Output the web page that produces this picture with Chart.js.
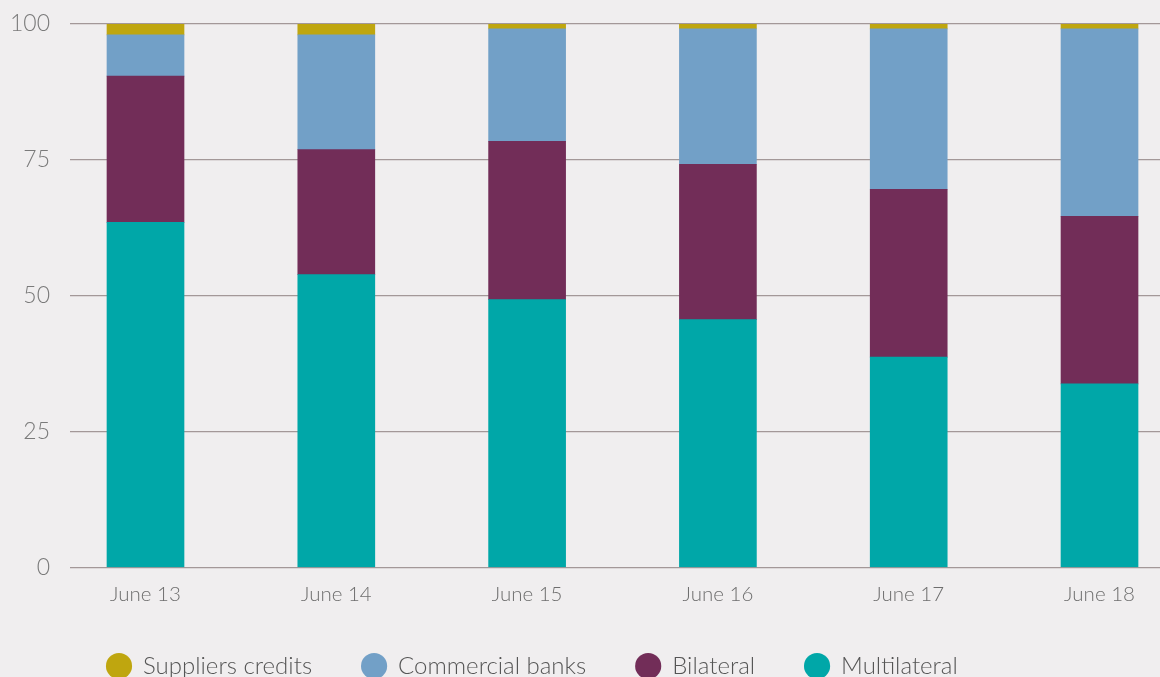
<!DOCTYPE html>
<html>
<head>
<meta charset="utf-8">
<script src="https://cdn.jsdelivr.net/npm/chart.js@4"></script>
<style>
  html, body { margin: 0; padding: 0; background: #f0eeef; overflow: hidden; }
  #wrap { width: 1160px; height: 677px; position: relative; }
</style>
</head>
<body>
<div id="wrap"><canvas id="c" width="1160" height="677"></canvas></div>
<script>
const categories = ['June 13', 'June 14', 'June 15', 'June 16', 'June 17', 'June 18'];
const multilateral = [63.5, 53.9, 49.3, 45.6, 38.7, 33.8];
const bilateral = [26.9, 23.0, 29.1, 28.6, 30.9, 30.8];
const commercialBanks = [7.6, 21.1, 20.7, 24.9, 29.5, 34.5];
const suppliersCredits = [2.0, 2.0, 0.9, 0.9, 0.9, 0.9];
const yTicks = [0, 25, 50, 75, 100];

const xIdx = categories.map((_, i) => i);

const legendShift = {
  id: 'legendShift',
  afterLayout(chart) {
    const lg = chart.legend;
    const dx = 57 - lg.left;
    lg.left += dx; lg.right += dx;
    const dy = 604 - lg.top;
    lg.top += dy; lg.bottom += dy;
  }
};

new Chart(document.getElementById('c'), {
  type: 'bar',
  data: {
    labels: xIdx,
    datasets: [
      { label: 'Multilateral', data: multilateral, backgroundColor: '#00a7a8' },
      { label: 'Bilateral', data: bilateral, backgroundColor: '#722d58' },
      { label: 'Commercial banks', data: commercialBanks, backgroundColor: '#72a0c7' },
      { label: 'Suppliers credits', data: suppliersCredits, backgroundColor: '#bfa60f' }
    ].map(d => Object.assign(d, { stack: 's', barThickness: 77, borderWidth: 0 }))
  },
  plugins: [legendShift],
  options: {
    responsive: false,
    animation: false,
    layout: { padding: { top: 24, left: 0, right: 0, bottom: -20 } },
    plugins: {
      tooltip: { enabled: false },
      legend: {
        position: 'bottom',
        align: 'start',
        reverse: true,
        labels: {
          usePointStyle: true,
          pointStyle: 'circle',
          boxWidth: 26,
          boxHeight: 18.5,
          padding: 50,
          color: '#555555',
          font: { family: 'Lato', size: 24, weight: 300 }
        }
      }
    },
    scales: {
      x: {
        type: 'linear',
        stacked: true,
        offset: false,
        min: -0.3957,
        max: 5.317,
        grid: { display: false },
        border: { display: false },
        afterFit(s) { s.height = 45.5; },
        afterBuildTicks(s) { s.ticks = xIdx.map(v => ({ value: v })); },
        ticks: {
          autoSkip: false,
          maxRotation: 0,
          padding: 7,
          color: '#6e6e6e',
          font: { family: 'Lato', size: 20.5, weight: 300 },
          callback: v => categories[v]
        }
      },
      y: {
        stacked: true,
        min: 0,
        max: 100,
        afterFit(s) { s.width = 70; s.paddingTop = 0; s.paddingBottom = 0; },
        afterBuildTicks(s) { s.ticks = yTicks.map(v => ({ value: v })); },
        grid: { color: '#a39898', lineWidth: 1.2, drawTicks: false },
        border: { display: false },
        ticks: {
          padding: 20,
          color: '#7a7a7a',
          font: { family: 'Lato', size: 23, weight: 300 }
        }
      }
    }
  }
});
</script>
</body>
</html>
